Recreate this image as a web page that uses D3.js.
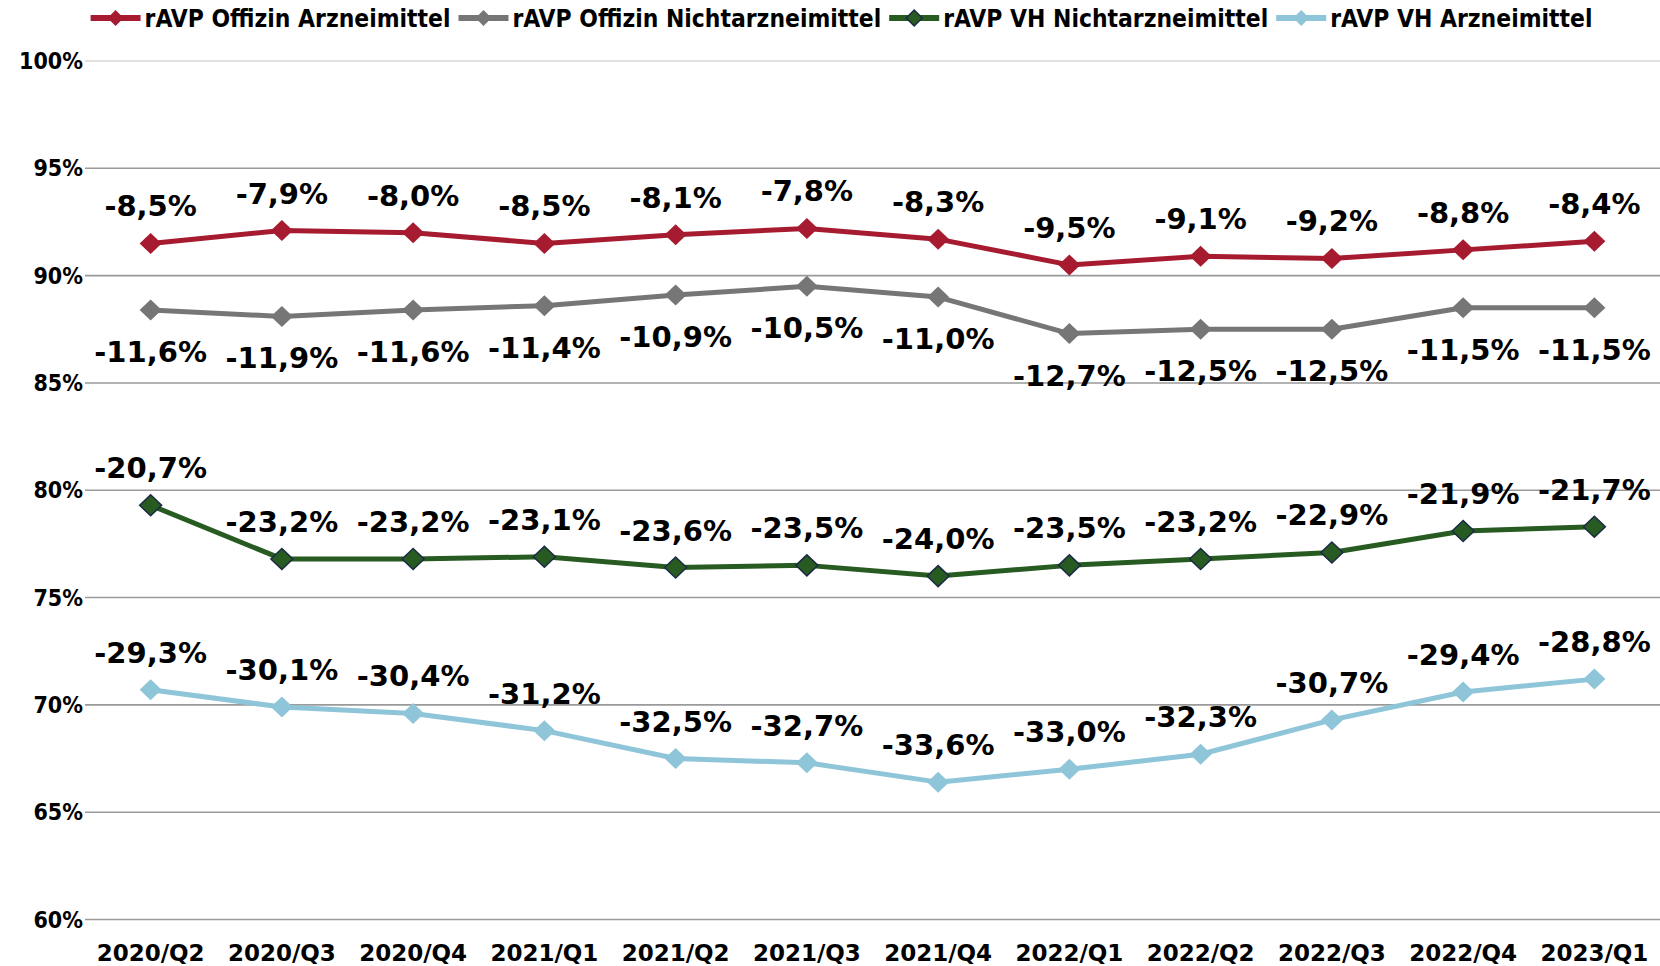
<!DOCTYPE html>
<html><head><meta charset="utf-8">
<script src="https://cdn.jsdelivr.net/npm/d3@7"></script>
<style>
body{margin:0;background:#fff}
svg{display:block}
text{font-family:"DejaVu Sans",sans-serif;font-weight:bold;fill:#000}
text.cond{font-family:"DejaVu Sans Condensed","DejaVu Sans",sans-serif;font-stretch:condensed}
</style>
</head><body>
<svg id="chart" width="1660" height="966"></svg>
<script>
const categories = ["2020/Q2","2020/Q3","2020/Q4","2021/Q1","2021/Q2","2021/Q3","2021/Q4","2022/Q1","2022/Q2","2022/Q3","2022/Q4","2023/Q1"];
const yTicks = [60,65,70,75,80,85,90,95,100];
const seriesNames = ["rAVP Offizin Arzneimittel","rAVP Offizin Nichtarzneimittel","rAVP VH Nichtarzneimittel","rAVP VH Arzneimittel"];
const offizinArzneimittel      = [91.5,92.1,92.0,91.5,91.9,92.2,91.7,90.5,90.9,90.8,91.2,91.6];
const offizinNichtarzneimittel = [88.4,88.1,88.4,88.6,89.1,89.5,89.0,87.3,87.5,87.5,88.5,88.5];
const vhNichtarzneimittel      = [79.3,76.8,76.8,76.9,76.4,76.5,76.0,76.5,76.8,77.1,78.1,78.3];
const vhArzneimittel           = [70.7,69.9,69.6,68.8,67.5,67.3,66.4,67.0,67.7,69.3,70.6,71.2];

const styles = [
  {color:"#a61b30", stroke:null, labelPos:"above"},
  {color:"#767676", stroke:null, labelPos:"below"},
  {color:"#275b22", stroke:"#1b2a45", labelPos:"above"},
  {color:"#8fc5d9", stroke:null, labelPos:"above"}
];
const allSeries = [offizinArzneimittel, offizinNichtarzneimittel, vhNichtarzneimittel, vhArzneimittel];

const svg = d3.select("#chart");
const x = d3.scalePoint().domain(categories).range([85,1660]).padding(0.5);
const y = d3.scaleLinear().domain([60,100]).range([919.5,61]);

// gridlines
svg.append("g").selectAll("line").data(yTicks).join("line")
  .attr("x1",85).attr("x2",1660)
  .attr("y1",d=>y(d)).attr("y2",d=>y(d))
  .attr("stroke",d=>d===100?"#d9d9d9":"#9a9a9a")
  .attr("stroke-width",1.6);

// y labels
svg.append("g").selectAll("text").data(yTicks).join("text")
  .attr("class","cond")
  .attr("x",83).attr("y",d=>y(d))
  .attr("text-anchor","end").attr("dominant-baseline","central")
  .style("font-size","23px")
  .text(d=>d+"%");

// x labels
svg.append("g").selectAll("text").data(categories).join("text")
  .attr("x",d=>x(d)).attr("y",961)
  .attr("text-anchor","middle")
  .style("font-size","23px")
  .text(d=>d);

const diamond = (cx,cy,w,h)=>`M${cx-w},${cy}L${cx},${cy-h}L${cx+w},${cy}L${cx},${cy+h}Z`;
const fmt = v => (v-100).toFixed(1).replace(".",",")+"%";

allSeries.forEach((vals,i)=>{
  const st = styles[i];
  const data = vals.map((v,j)=>({c:categories[j],v}));
  const g = svg.append("g");
  g.append("path").datum(data)
    .attr("fill","none").attr("stroke",st.color).attr("stroke-width",5)
    .attr("stroke-linejoin","round")
    .attr("d",d3.line().x(d=>x(d.c)).y(d=>y(d.v)));
  g.selectAll("path.m").data(data).join("path").attr("class","m")
    .attr("d",d=>diamond(x(d.c),y(d.v),11,10.5))
    .attr("fill",st.color)
    .attr("stroke",st.stroke||"none").attr("stroke-width",1.5);
  g.selectAll("text").data(data).join("text")
    .attr("x",d=>x(d.c))
    .attr("y",d=>st.labelPos==="above"?y(d.v)-27:y(d.v)+52)
    .attr("text-anchor","middle")
    .style("font-size","29px")
    .text(d=>fmt(d.v));
});

// legend
const lg = svg.append("g");
const items = [];
seriesNames.forEach((name,i)=>{
  const st = styles[i];
  const it = lg.append("g");
  it.append("line").attr("x1",0).attr("x2",50).attr("y1",18).attr("y2",18)
    .attr("stroke",st.color).attr("stroke-width",6);
  it.append("path").attr("d",diamond(25,18,8,8)).attr("fill",st.color)
    .attr("stroke",st.stroke||"none").attr("stroke-width",1.5);
  const t = it.append("text").attr("class","cond").attr("x",54).attr("y",18).attr("dominant-baseline","central")
    .style("font-size","24.4px").text(name);
  const w = 54 + t.node().getComputedTextLength();
  items.push({it,w});
});
const gap = 8;
const total = d3.sum(items,d=>d.w)+gap*(items.length-1);
let start = 841.5 - total/2;
items.forEach(d=>{ d.it.attr("transform",`translate(${start},0)`); start += d.w+gap; });
</script>
</body></html>
